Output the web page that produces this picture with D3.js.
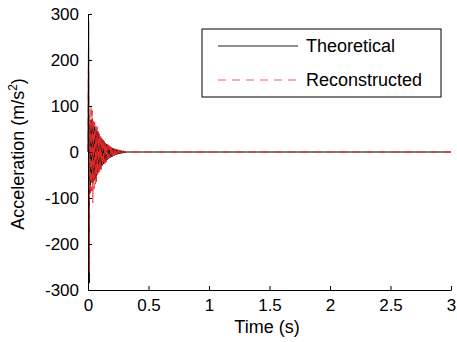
<!DOCTYPE html>
<html>
<head>
<meta charset="utf-8">
<script src="https://cdn.jsdelivr.net/npm/d3@7"></script>
<style>
  body { margin: 0; background: #fff; }
  text { font-family: Arial, "Liberation Sans", sans-serif; }
</style>
</head>
<body>
<div id="chart"></div>
<script>
// sample times (s) for the decaying part, then flat to 3 s
const time = [0, 0.005, 0.01, 0.015, 0.02, 0.025, 0.03, 0.035, 0.04, 0.045,
  0.05, 0.055, 0.06, 0.065, 0.07, 0.075, 0.08, 0.085, 0.09, 0.095,
  0.1, 0.105, 0.11, 0.115, 0.12, 0.125, 0.13, 0.135, 0.14, 0.145,
  0.15, 0.155, 0.16, 0.165, 0.17, 0.175, 0.18, 0.185, 0.19, 0.195,
  0.2, 0.205, 0.21, 0.215, 0.22, 0.225, 0.23, 0.235, 0.24, 0.245,
  0.25, 0.255, 0.26, 0.265, 0.27, 0.275, 0.28, 0.285, 0.29, 0.295,
  0.3, 0.305, 0.31, 0.315, 0.32, 0.325, 0.33, 3];

// theoretical acceleration (m/s^2)
const theoretical = [0, 285, -285, 60, -75, 70, -65, 72, -68, 60,
  -62, 55, -58, 50, -52, 45, -46, 40, -42, 36,
  -37, 32, -33, 28, -29, 25, -26, 22, -22, 19,
  -20, 17, -17, 15, -15, 13, -13, 11, -11, 10,
  -10, 8, -8, 7, -7, 6, -6, 5, -5, 5,
  -4, 4, -4, 3, -3, 3, -3, 2, -2, 2,
  -2, 1, -1, 1, -1, 0, 0, 0];

// reconstructed acceleration (m/s^2)
const reconstructed = [0, 272, -262, 80, -95, 100, -85, 90, -110, 70,
  -80, 65, -70, 60, -65, 55, -50, 45, -50, 40,
  -42, 35, -38, 30, -32, 28, -26, 24, -25, 20,
  -22, 18, -16, 16, -14, 14, -12, 12, -10, 10,
  -9, 9, -8, 8, -7, 7, -5, 6, -5, 5,
  -4, 5, -3, 4, -3, 4, -2, 3, -2, 3,
  -1, 2, -1, 1, -1, 1, 0, 0];

const xTicks = [0, 0.5, 1, 1.5, 2, 2.5, 3];
const yTicks = [-300, -200, -100, 0, 100, 200, 300];
const seriesNames = ["Theoretical", "Reconstructed"];

const W = 457, H = 342;
const margin = { top: 14, right: 6, bottom: 52, left: 88 };
const width = W - margin.left - margin.right;
const height = H - margin.top - margin.bottom;
const redColor = "#ec2a2a";

const svg = d3.select("#chart").append("svg")
    .attr("width", W)
    .attr("height", H);

const g = svg.append("g")
    .attr("transform", `translate(${margin.left},${margin.top})`);

const x = d3.scaleLinear().domain([0, 3]).range([0, width]);
const y = d3.scaleLinear().domain([-300, 300]).range([height, 0]);

const line = d3.line()
    .x(d => x(d[0]))
    .y(d => y(d[1]));

// theoretical (solid black)
g.append("path")
    .datum(time.map((t, i) => [t, theoretical[i]]))
    .attr("fill", "none")
    .attr("stroke", "#000")
    .attr("stroke-width", 1)
    .attr("d", line);

// reconstructed (dashed red)
g.append("path")
    .datum(time.map((t, i) => [t, reconstructed[i]]))
    .attr("fill", "none")
    .attr("stroke", redColor)
    .attr("stroke-width", 1)
    .attr("stroke-dasharray", "8,5")
    .attr("d", line);

// axes, ticks pointing inward, hyphen minus like the original
const fmt = d => String(d);
const xAxis = g.append("g")
    .attr("transform", `translate(0,${height})`)
    .call(d3.axisBottom(x).tickValues(xTicks).tickSizeInner(-4).tickSizeOuter(0)
        .tickPadding(9).tickFormat(fmt));

const yAxis = g.append("g")
    .call(d3.axisLeft(y).tickValues(yTicks).tickSizeInner(-4).tickSizeOuter(0)
        .tickPadding(9).tickFormat(fmt));

[xAxis, yAxis].forEach(a => {
    a.select(".domain").attr("stroke", "#000");
    a.selectAll(".tick line").attr("stroke", "#000");
    a.selectAll("text")
        .attr("fill", "#000")
        .style("font-size", "17px")
        .style("font-family", "Arial, 'Liberation Sans', sans-serif");
});

// axis labels
svg.append("text")
    .attr("x", 267)
    .attr("y", 333)
    .attr("text-anchor", "middle")
    .style("font-size", "18px")
    .text("Time (s)");

const yl = svg.append("text")
    .attr("transform", `translate(24,${margin.top + height / 2 + 2}) rotate(-90)`)
    .attr("text-anchor", "middle")
    .style("font-size", "18px");
yl.append("tspan").text("Acceleration (m/s");
yl.append("tspan").attr("dy", -7).style("font-size", "12px").text("2");
yl.append("tspan").attr("dy", 7).text(")");

// legend
const legend = svg.append("g").attr("transform", "translate(202,29)");
legend.append("rect")
    .attr("width", 239)
    .attr("height", 68)
    .attr("fill", "#fff")
    .attr("stroke", "#000")
    .attr("stroke-width", 1);

const legendStyles = [
    { stroke: "#222", dash: null, opacity: 1 },
    { stroke: redColor, dash: "8,6", opacity: 0.75 }
];

seriesNames.forEach((name, i) => {
    const ly = 17 + i * 34;
    legend.append("line")
        .attr("x1", 16).attr("x2", 96)
        .attr("y1", ly).attr("y2", ly)
        .attr("stroke", legendStyles[i].stroke)
        .attr("stroke-opacity", legendStyles[i].opacity)
        .attr("stroke-dasharray", legendStyles[i].dash);
    legend.append("text")
        .attr("x", 104)
        .attr("y", ly + 6)
        .style("font-size", "18px")
        .text(name);
});
</script>
</body>
</html>
